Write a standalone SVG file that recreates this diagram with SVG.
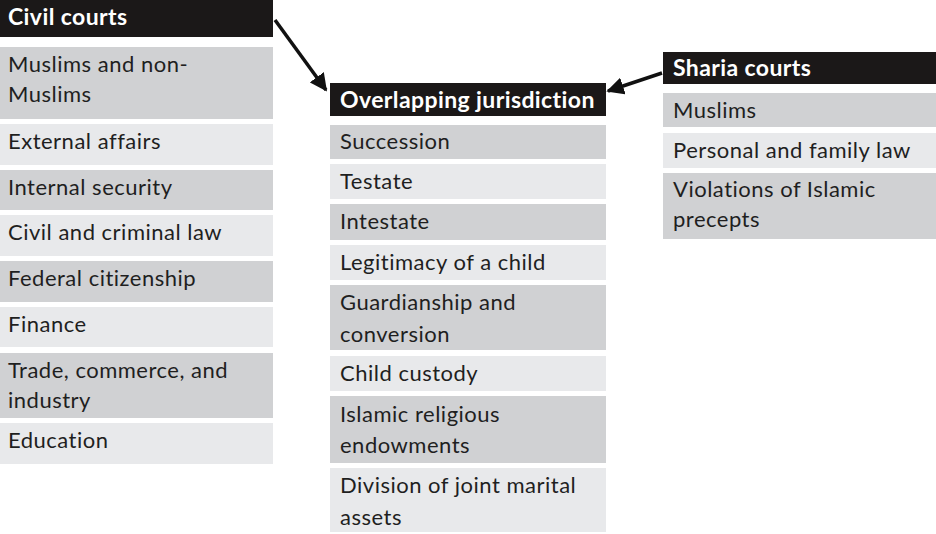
<svg xmlns="http://www.w3.org/2000/svg" width="936" height="534" viewBox="0 0 936 534">
<style>
.hd{fill:#1b1818}
.dk{fill:#d0d1d3}
.lt{fill:#e8e9eb}
.ht{font-family:Lato,"Open Sans",sans-serif;font-weight:bold;font-size:23px;letter-spacing:0.4px;fill:#ffffff}
.tx{font-family:Lato,"Open Sans",sans-serif;font-size:22px;letter-spacing:0.5px;fill:#1f1f1f}
.cn{stroke:#111;stroke-width:3.5;fill:none}
</style>
<defs>
<marker id="ah" viewBox="0 0 10 10" refX="9" refY="5" markerWidth="5" markerHeight="5" orient="auto" markerUnits="strokeWidth">
<path d="M0,0 L10,5 L0,10 z" fill="#111"/>
</marker>
</defs>
<rect width="936" height="534" fill="#ffffff"/>
<g id="civil-courts">
<rect class="hd" x="0" y="0" width="273" height="37"/>
<text class="ht" x="8" y="25">Civil courts</text>
<rect class="dk" x="0" y="47" width="273" height="72"/>
<text class="tx" x="8" y="72">Muslims and non-</text>
<text class="tx" x="8" y="102">Muslims</text>
<rect class="lt" x="0" y="124" width="273" height="41"/>
<text class="tx" x="8" y="149">External affairs</text>
<rect class="dk" x="0" y="170" width="273" height="40"/>
<text class="tx" x="8" y="195">Internal security</text>
<rect class="lt" x="0" y="215" width="273" height="41"/>
<text class="tx" x="8" y="240">Civil and criminal law</text>
<rect class="dk" x="0" y="261" width="273" height="41"/>
<text class="tx" x="8" y="286">Federal citizenship</text>
<rect class="lt" x="0" y="307" width="273" height="40"/>
<text class="tx" x="8" y="332">Finance</text>
<rect class="dk" x="0" y="353" width="273" height="65"/>
<text class="tx" x="8" y="378">Trade, commerce, and</text>
<text class="tx" x="8" y="408">industry</text>
<rect class="lt" x="0" y="423" width="273" height="41"/>
<text class="tx" x="8" y="448">Education</text>
</g>
<g id="overlapping-jurisdiction">
<rect class="hd" x="330" y="83" width="276" height="33"/>
<text class="ht" x="340" y="108">Overlapping jurisdiction</text>
<rect class="dk" x="330" y="125" width="276" height="34"/>
<text class="tx" x="340" y="149">Succession</text>
<rect class="lt" x="330" y="164" width="276" height="35"/>
<text class="tx" x="340" y="189">Testate</text>
<rect class="dk" x="330" y="204" width="276" height="36"/>
<text class="tx" x="340" y="229">Intestate</text>
<rect class="lt" x="330" y="245" width="276" height="35"/>
<text class="tx" x="340" y="270">Legitimacy of a child</text>
<rect class="dk" x="330" y="285" width="276" height="65"/>
<text class="tx" x="340" y="310">Guardianship and</text>
<text class="tx" x="340" y="342">conversion</text>
<rect class="lt" x="330" y="356" width="276" height="35"/>
<text class="tx" x="340" y="381">Child custody</text>
<rect class="dk" x="330" y="396" width="276" height="67"/>
<text class="tx" x="340" y="422">Islamic religious</text>
<text class="tx" x="340" y="453">endowments</text>
<rect class="lt" x="330" y="468" width="276" height="64"/>
<text class="tx" x="340" y="493">Division of joint marital</text>
<text class="tx" x="340" y="525">assets</text>
</g>
<g id="sharia-courts">
<rect class="hd" x="663" y="52" width="273" height="32"/>
<text class="ht" x="673" y="76">Sharia courts</text>
<rect class="dk" x="663" y="93" width="273" height="34"/>
<text class="tx" x="673" y="118">Muslims</text>
<rect class="lt" x="663" y="133" width="273" height="35"/>
<text class="tx" x="673" y="158">Personal and family law</text>
<rect class="dk" x="663" y="173" width="273" height="66"/>
<text class="tx" x="673" y="197">Violations of Islamic</text>
<text class="tx" x="673" y="227">precepts</text>
</g>
<g id="connectors">
<line class="cn" x1="275" y1="20" x2="326" y2="90" marker-end="url(#ah)"/>
<line class="cn" x1="662" y1="73" x2="608" y2="91" marker-end="url(#ah)"/>
</g>
</svg>
